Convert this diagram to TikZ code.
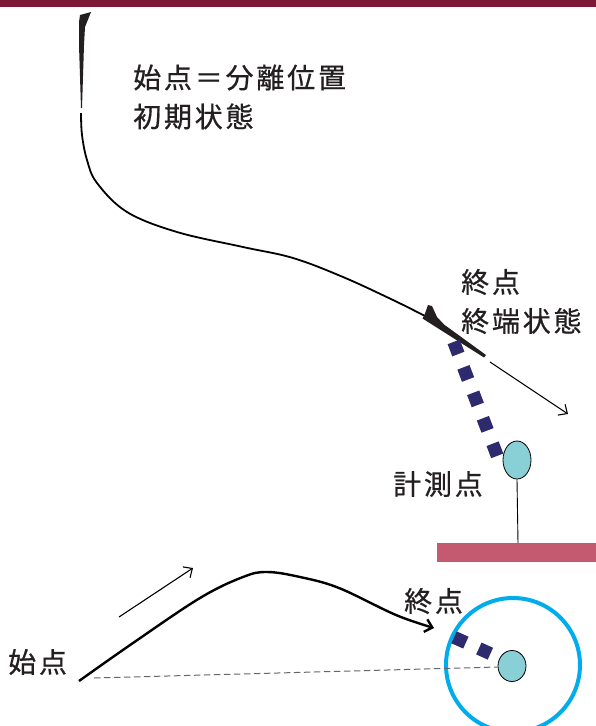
\documentclass[tikz,border=0pt]{standalone}
\usepackage{fontspec}
\newfontfamily\jpfont[LetterSpace=10,FakeBold=0.6]{Noto Sans CJK JP}
\usetikzlibrary{arrows.meta,shapes.geometric}
\definecolor{topbar}{RGB}{125,25,55}
\definecolor{groundbar}{RGB}{196,90,112}
\definecolor{navy}{RGB}{46,42,110}
\definecolor{ring}{RGB}{0,172,236}
\definecolor{sensorfill}{RGB}{137,207,214}
\definecolor{txtgray}{RGB}{35,31,32}
\begin{document}
\begin{tikzpicture}[x=1pt,y=-1pt,
	lbl/.style={font=\jpfont\fontsize{28}{39}\selectfont, text=txtgray, inner sep=0, align=left, anchor=west},
	sensor/.style={ellipse, draw, line width=0.8, fill=sensorfill, inner sep=0},
	dots/.style={navy, line width=13, dash pattern=on 13 off 14.25},
	barb/.style={-{Straight Barb[length=7,width=13]}}]
	\useasboundingbox (0,0) rectangle (596,726);
	\fill[topbar] (0,0) rectangle (596,7);
	\fill[groundbar] (437,543) rectangle (596,562);
	
	% upper trajectory
	\fill[txtgray] (79,22) -- (80,15) -- (91,12) -- (85,27) -- (84,45) -- (82,108) -- (81,108) -- (79,45) -- cycle;
	\draw[line width=1.8] plot[smooth, tension=0.6] coordinates {(81,113) (82,135) (87,160) (97,183) (127,212) (177,232) (243,247) (293,258) (343,277) (393,300) (425,316)};
	\fill[txtgray] (422.5,318.5) -- (425,313.5) -- (428,305) -- (432,306) -- (437,317) -- (444,324.5) -- (486,355) -- (484,357.5) -- cycle;
	\coordinate (heading) at (490,362);
	\coordinate (aim) at (568,414);
	\draw[line width=1.1, barb] (heading) -- (aim);
	
	\coordinate (los1) at (453.7,341.9);
	\coordinate (los2) at (497.3,456);
	\draw[dots] (los1) -- (los2);
	\node[sensor, minimum width=28, minimum height=38] (meas) at (517,460) {};
	\coordinate (foot) at (518,543);
	\draw[line width=0.9] (meas.south) -- (foot);
	
	\node[lbl] (sep) at (133,97) {始点＝分離位置\\初期状態};
	\node[lbl] (end) at (461,301.5) {終点\\終端状態};
	\node[lbl] (measlbl) at (393,484) {計測点};
	
	% lower view
	\node[lbl] (start) at (8,662) {始点};
	\node[lbl] (goal) at (404,601) {終点};
	\draw[ring, line width=4] (513,665) circle (67);
	\node[sensor, minimum width=28, minimum height=31] (meas2) at (512,666) {};
	\coordinate (launch) at (79,681);
	\coordinate (arrive) at (434,628);
	\draw[line width=2.4, barb] plot[smooth, tension=0.6] coordinates {(launch) (133,643) (200,598) (243,577) (267,572) (300,577) (339,588) (396,615) (arrive)};
	\coordinate (dir1) at (119,617);
	\coordinate (dir2) at (193,568);
	\draw[line width=1.1, barb] (dir1) -- (dir2);
	\draw[gray!80!black, line width=1, dash pattern=on 6.5 off 3.5] (94,678) -- (meas2.west |- 0,667);
	\draw[dots] (454,637.3) -- (490.4,653.7);
\end{tikzpicture}
\end{document}
